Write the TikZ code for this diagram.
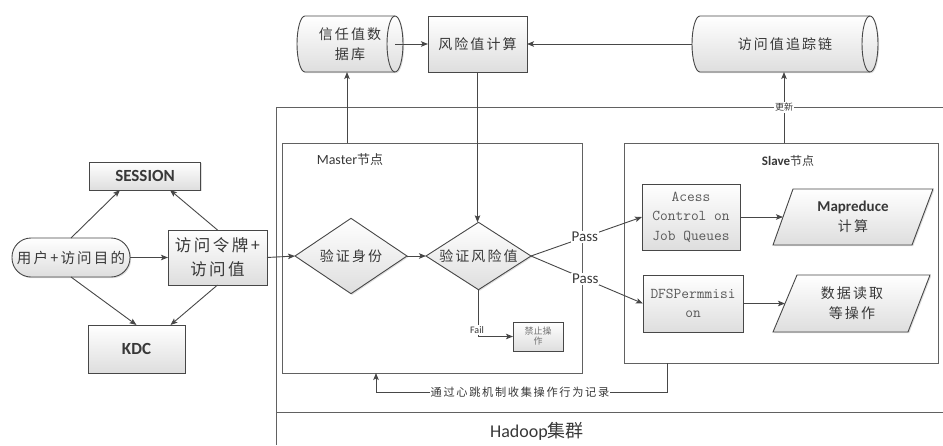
\documentclass[tikz,border=0pt]{standalone}
\usepackage{fontspec}
\setmainfont{Carlito}
\newfontfamily\zh[LetterSpace=15]{Noto Sans CJK SC}
\newfontfamily\zhn{Noto Sans CJK SC}
\usetikzlibrary{arrows.meta,shapes.geometric,shadows}
\definecolor{ln}{gray}{0.28}
\definecolor{tx}{gray}{0.22}
\begin{document}
\begin{tikzpicture}[x=1pt,y=-1pt,
  line/.style={draw=ln, line width=0.9pt},
  arr/.style={line, -{Stealth[length=7pt,width=5.5pt,inset=1.5pt]}},
  sh/.style={drop shadow={shadow xshift=1.2pt,shadow yshift=-1.2pt,opacity=0.25}},
  box/.style={draw=ln, line width=0.9pt, top color=white, bottom color=black!13,
    inner sep=0pt, outer sep=0pt, text=tx, align=center, sh},
  shapefill/.style={draw=ln, line width=0.9pt, top color=white, bottom color=black!13, sh},
  txtnode/.style={inner sep=0pt, outer sep=0pt, text=tx, align=center},
  frame/.style={draw=black!62, line width=0.9pt},
  container/.style={draw=black!62, line width=0.9pt, inner sep=0pt, outer sep=0pt},
  dia/.style={box, diamond, minimum width=#1, minimum height=64pt},
  lbl/.style={fill=white, inner sep=1pt, text=tx}
]
\useasboundingbox (0,0) rectangle (943,445);

% Hadoop cluster frame
\draw[frame] (943,107) -- (276,107) -- (276,445);
\draw[frame] (276,412) -- (943,412);
\node[txtnode, font=\fontsize{18}{18}\selectfont] (hadoop) at (537,431) {Hadoop{\zhn 集群}};

% Master and Slave containers
\node[container, minimum width=300pt, minimum height=230pt] (master) at (432,258) {};
\node[txtnode, font=\fontsize{14}{14}\selectfont] (mlabel) at (350,160) {Master{\zhn\fontsize{13}{13}\selectfont 节点}};
\node[container, minimum width=314pt, minimum height=220pt] (slave) at (781,253) {};
\node[txtnode, font=\bfseries\fontsize{13}{13}\selectfont] (slabel) at (788,161) {Slave{\zhn\mdseries\fontsize{12}{12}\selectfont 节点}};

% left part
\node[box, minimum width=111pt, minimum height=28pt, font=\bfseries\fontsize{17}{17}\selectfont] (session) at (145,176) {SESSION};
\node[box, minimum width=118pt, minimum height=39pt, rounded corners=19pt, font=\zh\fontsize{14.5}{14.5}\selectfont] (user) at (71,257.5) {用户+访问目的};
\node[box, minimum width=99pt, minimum height=55pt, font=\zh\fontsize{16.5}{24}\selectfont] (token) at (217.5,257.5) {访问令牌+\\访问值};
\node[box, minimum width=97pt, minimum height=48pt, font=\bfseries\fontsize{17}{17}\selectfont] (kdc) at (136.5,349) {KDC};

\draw[arr] (user.north) -- ([xshift=-25pt]session.south);
\draw[arr] (token.north) -- ([xshift=25pt]session.south);
\draw[arr] (user.south) -- (kdc.north);
\draw[arr] (token.south) -- ([xshift=34pt]kdc.north);
\draw[arr] (user.east) -- (token.west);

% cylinders
\path[shapefill] (305,16) -- (395,16) arc[start angle=-90,end angle=90,x radius=8,y radius=28]
  -- (305,72) arc[start angle=90,end angle=270,x radius=8,y radius=28] -- cycle;
\draw[line] (395,16) arc[start angle=270,end angle=90,x radius=8,y radius=28];
\node[txtnode, minimum width=106pt, minimum height=56pt, font=\zh\fontsize{14}{20}\selectfont] (db) at (350,44) {信任值数\\据库};

\path[shapefill] (700,16) -- (870,16) arc[start angle=-90,end angle=90,x radius=8,y radius=28]
  -- (700,72) arc[start angle=90,end angle=270,x radius=8,y radius=28] -- cycle;
\draw[line] (870,16) arc[start angle=270,end angle=90,x radius=8,y radius=28];
\node[txtnode, minimum width=186pt, minimum height=56pt, font=\zh\fontsize{14}{14}\selectfont] (trace) at (785,44) {访问值追踪链};

\node[box, minimum width=99pt, minimum height=56pt, font=\zh\fontsize{14}{14}\selectfont] (risk) at (477.5,44) {风险值计算};

% master contents
\node[dia=112pt, font=\zh\fontsize{14}{14}\selectfont] (vs) at (351,256) {验证身份};
\node[dia=105pt, inner sep=-6pt, font=\zh\fontsize{14}{14}\selectfont] (vr) at (478.5,256) {验证风险值};
\node[box, minimum width=50pt, minimum height=29pt, text=black!55, font=\zhn\fontsize{9}{10}\selectfont] (fb) at (538,336.5) {禁止操\\作};

% slave contents
\node[box, minimum width=98pt, minimum height=66pt, text=black!65, font=\ttfamily\fontsize{15}{19.5}\selectfont] (acess) at (691,217) {Acess\\Control on\\Job Queues};
\node[box, minimum width=100pt, minimum height=57pt, text=black!65, font=\ttfamily\fontsize{15}{19.5}\selectfont] (dfs) at (693,303.5) {DFSPermmisi\\on};

\path[shapefill] (793,189) -- (933,189) -- (912,245) -- (773,245) -- cycle;
\node[txtnode, minimum width=140pt, minimum height=56pt, font=\fontsize{15}{20}\selectfont] (mr) at (853,217) {\textbf{Mapreduce}\\{\zh\fontsize{14}{14}\selectfont 计算}};
\path[shapefill] (797,275) -- (930,275) -- (908,332) -- (773,332) -- cycle;
\node[txtnode, minimum width=134pt, minimum height=57pt, font=\zh\fontsize{14}{20}\selectfont] (dw) at (852,303.5) {数据读取\\等操作};

% connectors
\draw[arr] (token.east) -- (vs.west);
\draw[arr] (vs.east) -- (vr.west);
\draw[arr] ([xshift=-8pt]db.east) -- (risk.west);
\draw[arr] (trace.west -| 692,0) -- (risk.east);
\draw[arr] ([xshift=65pt]master.north west) -- ([xshift=65pt]master.north west |- db.south);
\draw[arr] (risk.south) -- (risk.south |- vr.north);
\draw[arr] ([xshift=-1pt]trace.south |- slave.north) -- ([xshift=-1pt]trace.south)
  node[lbl, pos=0.5, font=\zhn\fontsize{9}{9}\selectfont] (upd) {更新};
\draw[arr] (vr.east) -- (acess.west) node[lbl, pos=0.485, font=\fontsize{15}{15}\selectfont] (pass1) {Pass};
\draw[arr] (vr.east) -- (dfs.west) node[lbl, pos=0.485, font=\fontsize{15}{15}\selectfont] (pass2) {Pass};
\draw[arr] (vr.south) |- (fb.west);
\node[lbl, font=\fontsize{10}{10}\selectfont] (fail) at (477,330) {Fail};
\draw[arr] (acess.east) -- (mr.west);
\draw[arr] (dfs.east) -- (dw.west);
\draw[arr] ([xshift=43pt]slave.south west) -- ++(0,29) -| ([xshift=94pt]master.south west);
\node[lbl, font=\zh\fontsize{11.2}{11.2}\selectfont] (hb) at (520,392) {通过心跳机制收集操作行为记录};
\end{tikzpicture}
\end{document}
